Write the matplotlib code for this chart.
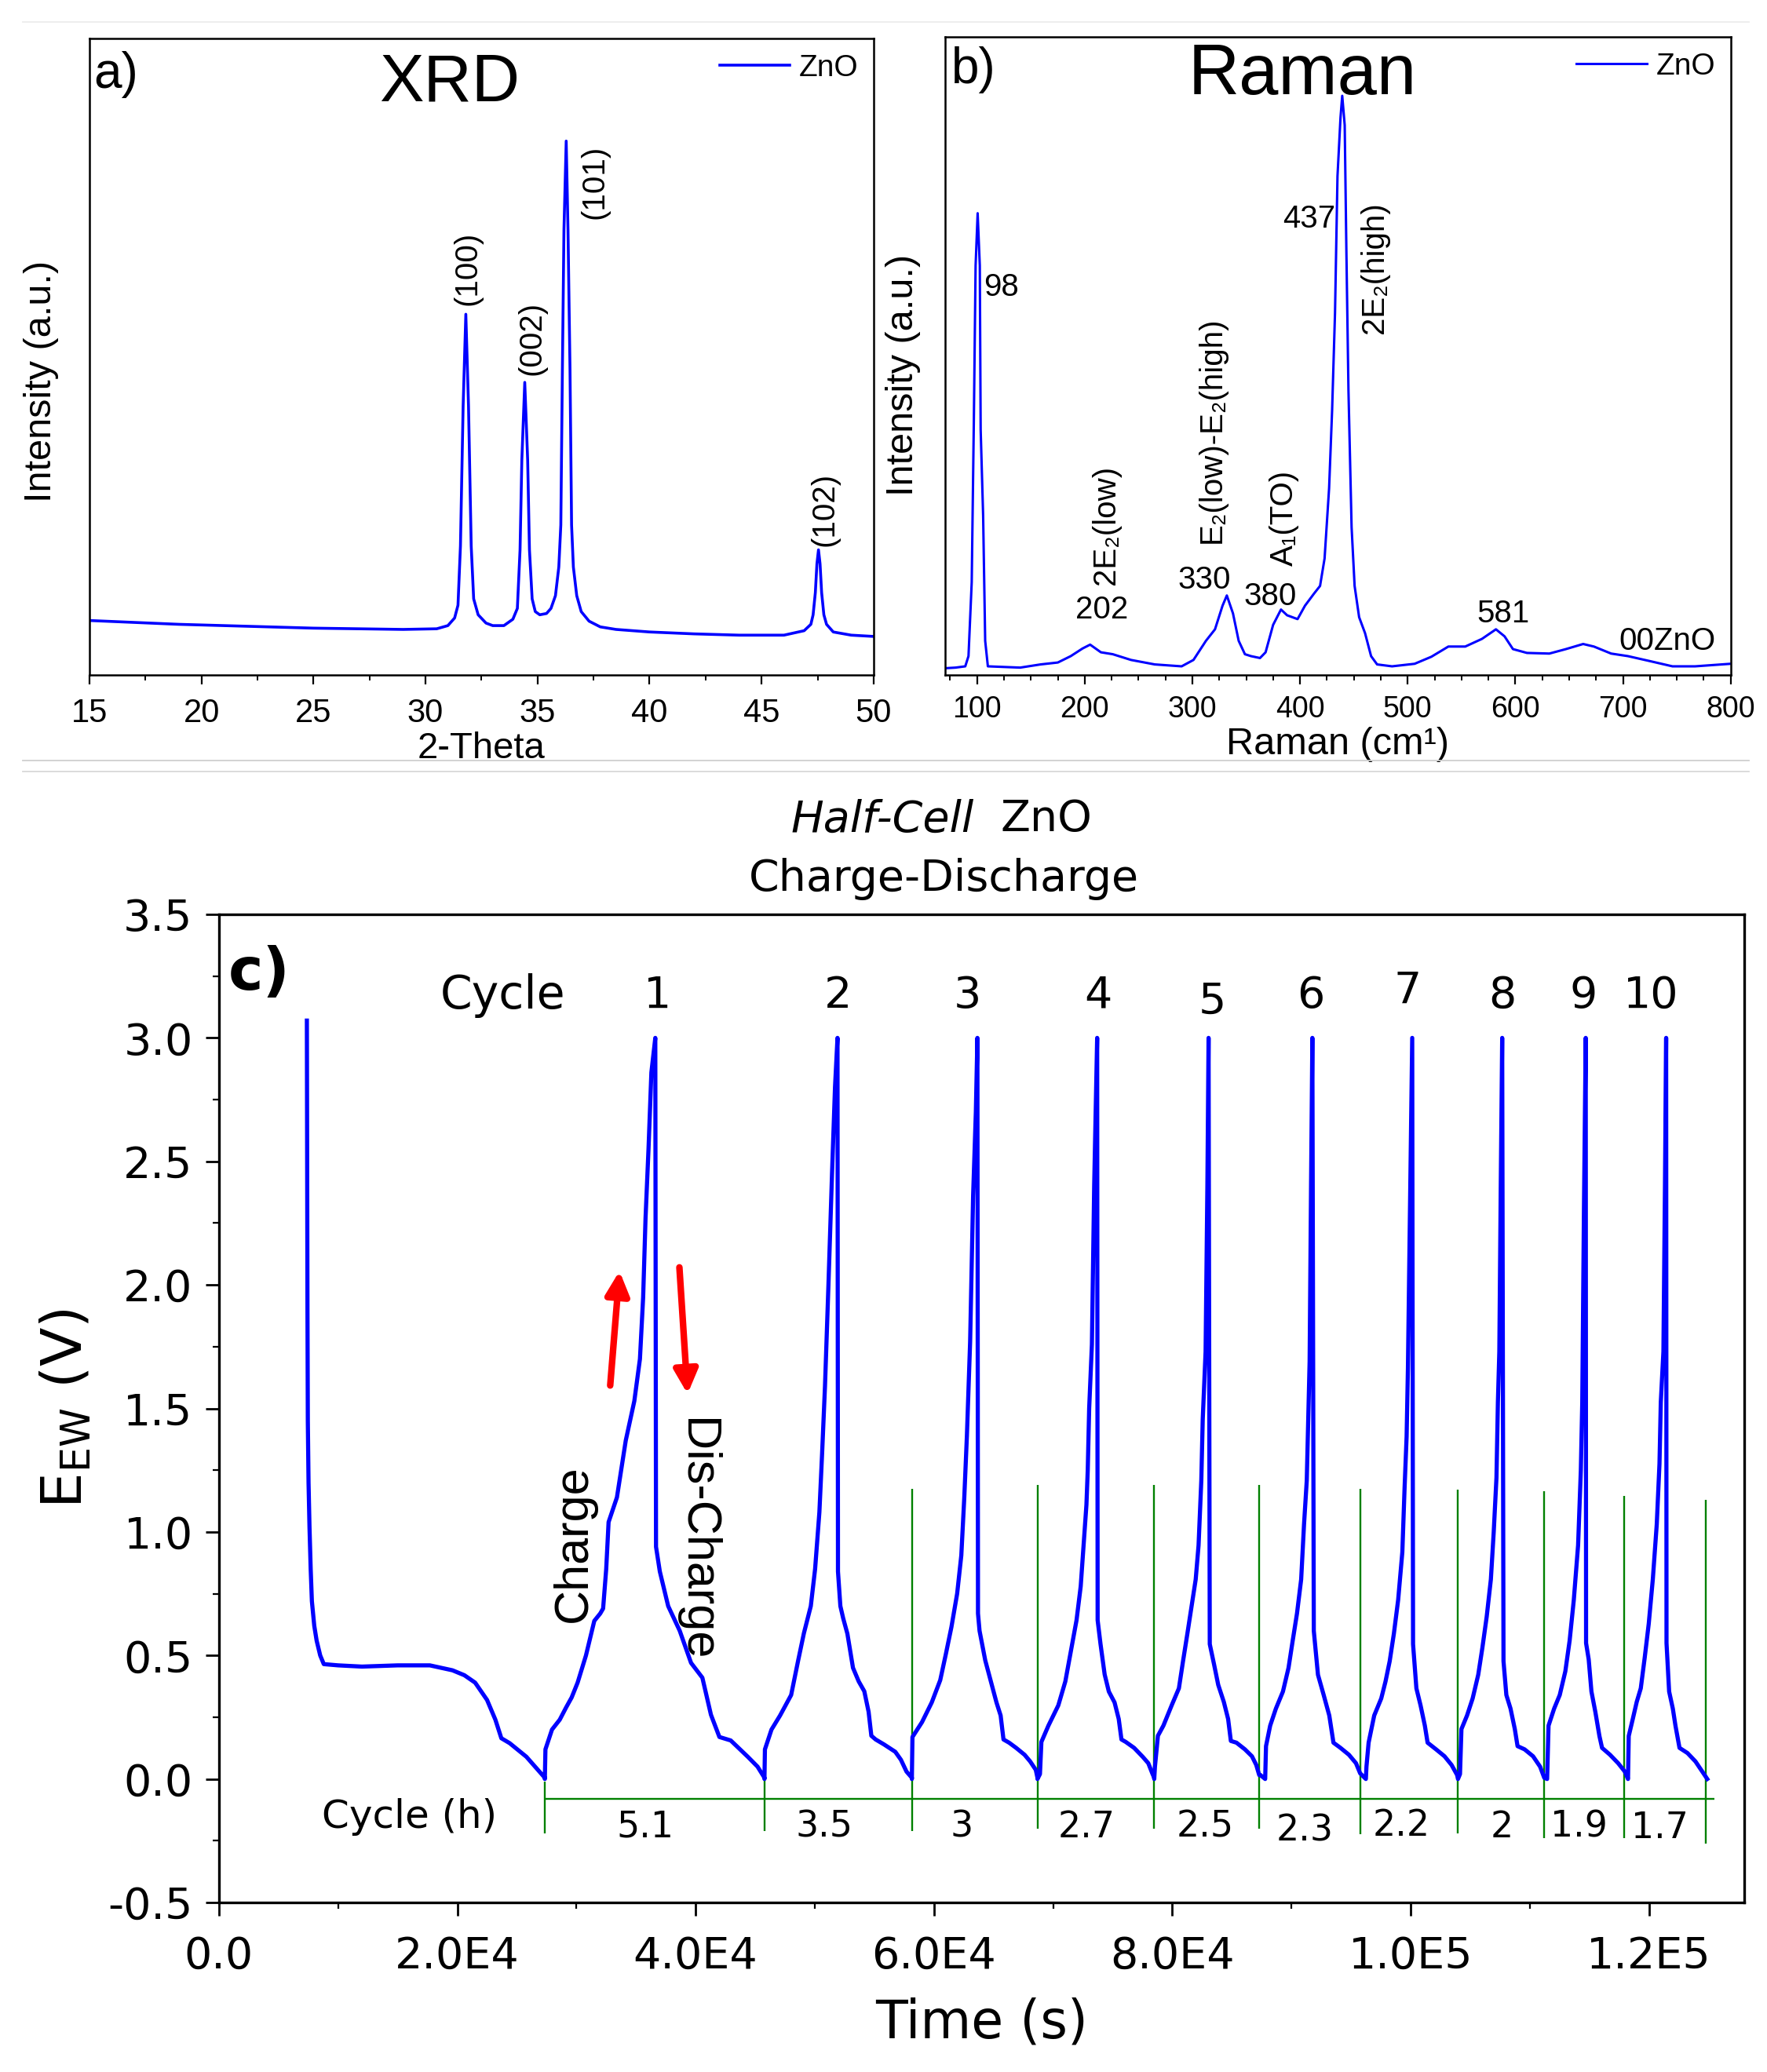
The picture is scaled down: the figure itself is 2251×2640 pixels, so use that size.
import matplotlib
matplotlib.use("Agg")
import matplotlib.pyplot as plt
from matplotlib.lines import Line2D
from matplotlib.ticker import MultipleLocator

plt.rcParams["font.family"] = ["Liberation Sans", "DejaVu Sans"]

# ---------------- a) XRD ----------------
xrd_x = [15, 17, 19, 21, 23, 25, 27, 29, 30.5, 31.0, 31.3, 31.45, 31.56, 31.68, 31.8, 31.92, 32.04,
         32.15, 32.35, 32.7, 33.0, 33.5, 33.9, 34.1, 34.22, 34.30, 34.43, 34.56, 34.64, 34.76, 34.9,
         35.1, 35.4, 35.6, 35.8, 35.95, 36.04, 36.11, 36.18, 36.28, 36.36, 36.45, 36.52, 36.6, 36.75,
         36.95, 37.3, 37.8, 38.5, 40, 42, 44, 46, 46.9, 47.2, 47.3, 47.4, 47.47, 47.54, 47.61, 47.68,
         47.78, 47.9, 48.2, 49, 50]
xrd_y = [86, 83, 80, 78, 76, 74, 73, 72, 73, 78, 90, 110, 203, 423, 567, 423, 203,
         120, 95, 82, 78, 78, 88, 105, 197, 338, 460, 338, 197, 120, 100,
         95, 97, 105, 125, 170, 236, 480, 700, 839, 700, 480, 236, 170, 125,
         100, 85, 76, 72, 68, 65, 63, 63, 70, 80, 95, 130, 175, 197, 175, 130,
         95, 80, 68, 63, 61]
xrd_peak_labels = ["(100)", "(002)", "(101)", "(102)"]
xrd_label_x = [31.89, 34.75, 37.55, 47.8]
xrd_label_y = [581, 471, 717, 203]

# ---------------- b) Raman ----------------
raman_x = [70, 80, 89, 92, 95, 97, 98.6, 100.5, 102.5, 103.3, 105.6, 107.5, 110, 125, 140, 159, 175,
           187, 198, 205, 215, 226, 243, 265, 290, 301, 312.6, 321, 328, 332, 337.7, 343, 348.8,
           354.4, 362.8, 368, 375, 382.3, 388, 397.7, 404.6, 413, 418.6, 422.8, 427, 429.8, 432.5,
           434.8, 437.6, 439.2, 441.5, 443.1, 445, 447.9, 450.7, 454.9, 460.4, 466, 471.6, 485.5,
           506.5, 522, 537.8, 553.5, 569, 582, 590, 597.8, 610.8, 631.6, 647, 663, 673, 689, 704.6,
           725.5, 746, 767, 800]
raman_y = [11, 12, 14, 30, 146, 403, 642, 724, 642, 385, 250, 54, 14, 13, 12, 17, 20,
           30, 42, 48, 36, 33, 24, 17, 14, 24, 54, 72, 109, 125, 97, 54, 33,
           30, 27, 36, 79, 103, 94, 88, 109, 128, 140, 183, 293, 415, 568,
           782, 874, 908, 862, 660, 446, 232, 140, 91, 66, 30, 17, 14,
           18, 29, 45, 45, 57, 72, 61, 41, 35, 34, 41, 49, 45, 34, 30,
           22, 14, 14, 18]
raman_num_labels = ["98", "202", "330", "380", "437", "581", "00ZnO"]
raman_num_x = [106, 215.6, 311, 372, 408.5, 589, 741]
raman_num_y = [608, 103, 149, 123, 715, 96, 53]
raman_num_ha = ["left", "center", "center", "center", "center", "center", "center"]
raman_mode_labels = ["2E\u2082(low)", "E\u2082(low)-E\u2082(high)", "A\u2081(TO)", "2E\u2082(high)"]
raman_mode_x = [219.7, 318, 385, 469.4]
raman_mode_y = [236, 385, 246, 638]

# ---------------- c) Charge-discharge ----------------
rest_t = [7380, 7400, 7430, 7460, 7520, 7600, 7700, 7800, 8000, 8200, 8500, 8800, 10000, 12000,
          15000, 17700, 19600, 20600, 21500, 22500, 23200, 23700, 24400, 25800, 27350]
rest_v = [3.07, 2.6, 1.9, 1.45, 1.2, 1.02, 0.85, 0.72, 0.62, 0.56, 0.50, 0.465, 0.46, 0.455,
          0.46, 0.46, 0.44, 0.42, 0.39, 0.32, 0.24, 0.165, 0.145, 0.09, 0.005]
c1_t = [27350, 27400, 27950, 28600, 29140, 29600, 30100, 30800, 31500, 32000, 32240, 32500, 32700,
        33400, 34140, 34860, 35330, 35600, 35800, 36050, 36290, 36500, 36620, 36680, 37000, 37700,
        38670, 39620, 40570, 41290, 42000, 42950, 44380, 45200, 45780]
c1_v = [0.0, 0.12, 0.20, 0.24, 0.29, 0.33, 0.39, 0.50, 0.64, 0.67, 0.69, 0.85, 1.04,
        1.14, 1.37, 1.53, 1.70, 1.95, 2.27, 2.55, 2.86, 2.95, 3.0, 0.94, 0.84, 0.70,
        0.60, 0.47, 0.41, 0.26, 0.17, 0.156, 0.09, 0.05, 0.005]
c2_t = [45780, 45820, 46370, 47090, 48020, 48610, 49090, 49670, 50030, 50390, 50620, 50860, 51150,
        51450, 51700, 51910, 51950, 52150, 52390, 52740, 53210, 53690, 54160, 54520, 54750, 55110,
        55810, 56760, 57230, 57700, 58150]
c2_v = [0.0, 0.12, 0.20, 0.257, 0.34, 0.48, 0.59, 0.70, 0.85, 1.08, 1.32, 1.59, 2.0,
        2.45, 2.8, 3.0, 0.84, 0.70, 0.65, 0.588, 0.45, 0.395, 0.355, 0.272, 0.175, 0.16,
        0.14, 0.11, 0.078, 0.03, 0.005]
c3_t = [58150, 58200, 59000, 59820, 60530, 61000, 61470, 61950, 62300, 62550, 62770, 63040, 63290,
        63520, 63650, 63700, 63830, 64310, 64780, 65250, 65600, 65840, 66310, 66900, 67610, 68080,
        68550, 68690]
c3_v = [0.0, 0.17, 0.23, 0.31, 0.40, 0.505, 0.615, 0.75, 0.905, 1.14, 1.39, 1.77, 2.36,
        2.70, 3.0, 0.67, 0.60, 0.48, 0.395, 0.31, 0.257, 0.16, 0.147, 0.126, 0.098, 0.071,
        0.037, 0.005]
c4_t = [68690, 68900, 69020, 69610, 70440, 71030, 71500, 71970, 72320, 72560, 72800, 72910, 73030,
        73260, 73450, 73700, 73740, 73980, 74330, 74680, 75160, 75510, 75740, 76100, 76800, 77520,
        77990, 78350, 78490]
c4_v = [0.0, 0.02, 0.15, 0.216, 0.298, 0.395, 0.519, 0.643, 0.78, 0.946, 1.11, 1.25, 1.50,
        1.76, 2.4, 3.0, 0.643, 0.547, 0.423, 0.354, 0.31, 0.243, 0.16, 0.15, 0.126, 0.09,
        0.064, 0.02, 0.005]
c5_t = [78490, 78550, 78800, 79260, 79970, 80560, 80910, 81270, 81620, 81970, 82210, 82440, 82560,
        82800, 82950, 83050, 83150, 83510, 83860, 84330, 84690, 84920, 85390, 86100, 86690, 87050,
        87300]
c5_v = [0.0, 0.05, 0.175, 0.216, 0.30, 0.367, 0.478, 0.588, 0.698, 0.808, 0.946, 1.208, 1.456,
        1.73, 2.4, 3.0, 0.546, 0.464, 0.381, 0.312, 0.243, 0.154, 0.147, 0.12, 0.092, 0.057,
        0.016]
c6_t = [87400, 87800, 87870, 88220, 88700, 89290, 89760, 90110, 90470, 90820, 91060, 91290, 91410,
        91530, 91650, 91760, 91880, 92230, 92710, 93180, 93530, 94120, 94830, 95420, 95770]
c6_v = [0.016, 0.0, 0.133, 0.216, 0.285, 0.354, 0.45, 0.56, 0.67, 0.808, 1.03, 1.208, 1.456,
        1.69, 2.4, 3.0, 0.60, 0.422, 0.34, 0.257, 0.147, 0.126, 0.098, 0.064, 0.023]
c7_t = [96250, 96300, 96480, 96950, 97540, 97900, 98250, 98600, 98960, 99310, 99500, 99670, 99780,
        99950, 100140, 100210, 100490, 100840, 101200, 101430, 102140, 102850, 103440, 103910]
c7_v = [0.0, 0.05, 0.147, 0.257, 0.326, 0.395, 0.477, 0.588, 0.725, 0.918, 1.18, 1.387, 1.663,
        2.3, 3.0, 0.546, 0.367, 0.298, 0.216, 0.147, 0.12, 0.092, 0.057, 0.016]
c8_t = [103980, 104150, 104270, 104740, 105210, 105680, 106030, 106390, 106740, 106980, 107210,
        107330, 107450, 107570, 107690, 107800, 108040, 108390, 108750, 108980, 109570, 110280,
        110870, 111220]
c8_v = [0.0, 0.02, 0.202, 0.257, 0.326, 0.422, 0.532, 0.657, 0.808, 1.0, 1.22,
        1.525, 1.73, 2.4, 3.0, 0.477, 0.34, 0.285, 0.202, 0.133, 0.12, 0.092,
        0.05, 0.005]
c9_t = [111460, 111580, 112050, 112520, 112990, 113350, 113700, 114060, 114290, 114410, 114550,
        114700, 114730, 114950, 115180, 115510, 115850, 116070, 116740, 117420, 117980, 118250]
c9_v = [0.0, 0.216, 0.285, 0.34, 0.436, 0.56, 0.725, 0.946, 1.249, 1.525, 2.3,
        3.0, 0.55, 0.484, 0.354, 0.271, 0.174, 0.126, 0.098, 0.064, 0.03, 0.0]
c10_t = [118250, 118310, 118650, 118980, 119320, 119650, 119990, 120330, 120660, 120890, 121000,
         121220, 121350, 121450, 121480, 121700, 122010, 122230, 122570, 123240, 123910, 124580,
         124900]
c10_v = [0.0, 0.174, 0.243, 0.312, 0.367, 0.491, 0.629, 0.808, 1.03, 1.276, 1.525,
         1.73, 2.4, 3.0, 0.55, 0.354, 0.285, 0.216, 0.126, 0.105, 0.071, 0.023,
         0.0]

cycle_numbers = ["1", "2", "3", "4", "5", "6", "7", "8", "9", "10"]
cycle_num_t = [36820, 51950, 62790, 73800, 83390, 91640, 99740, 107730, 114520, 120200]
cycle_num_v = [3.17, 3.17, 3.17, 3.17, 3.146, 3.17, 3.19, 3.17, 3.17, 3.17]

cycle_hours = ["5.1", "3.5", "3", "2.7", "2.5", "2.3", "2.2", "2", "1.9", "1.7"]
hours_t = [35770, 50770, 62300, 72830, 82770, 91110, 99250, 107640, 114140, 120930]
hours_v = [-0.195, -0.195, -0.196, -0.196, -0.196, -0.21, -0.19, -0.196, -0.196, -0.2]

bound_t = [27350, 45780, 58150, 68690, 78490, 87300, 95760, 103970, 111200, 117950, 124800]
bound_top = [-0.01, 0.006, 1.176, 1.19, 1.19, 1.19, 1.175, 1.17, 1.165, 1.145, 1.13]
bound_bot = [-0.22, -0.21, -0.21, -0.20, -0.20, -0.20, -0.225, -0.22, -0.24, -0.24, -0.26]
scale_v = -0.082
scale_t0, scale_t1 = 27350, 125500

xt_pos = [0, 20000, 40000, 60000, 80000, 100000, 120000]
xt_lab = ["0.0", "2.0E4", "4.0E4", "6.0E4", "8.0E4", "1.0E5", "1.2E5"]
yt_pos = [-0.5, 0.0, 0.5, 1.0, 1.5, 2.0, 2.5, 3.0, 3.5]
yt_lab = ["-0.5", "0.0", "0.5", "1.0", "1.5", "2.0", "2.5", "3.0", "3.5"]

BLUE = "#0000ff"
GREEN = "#008000"

fig = plt.figure(figsize=(22.51, 26.40), dpi=100)

# ---------- panel a ----------
ax_a = fig.add_axes([0.0506, 0.6741, 0.4438, 0.3073])
ax_a.plot(xrd_x, xrd_y, color=BLUE, lw=2.6, label="ZnO")
ax_a.set_xlim(15, 50)
ax_a.set_ylim(0, 1000)
ax_a.set_yticks([])
ax_a.xaxis.set_major_locator(MultipleLocator(5))
ax_a.xaxis.set_minor_locator(MultipleLocator(2.5))
ax_a.tick_params(axis="x", which="major", direction="out", length=8.5, width=1.6, labelsize=30, pad=12)
ax_a.tick_params(axis="x", which="minor", direction="out", length=5, width=1.4)
ax_a.set_xlabel("2-Theta", fontsize=34, labelpad=2)
ax_a.set_ylabel("Intensity (a.u.)", fontsize=35, labelpad=28, y=0.461)
for s in ax_a.spines.values():
    s.set_linewidth(1.8)
for lab, x, y in zip(xrd_peak_labels, xrd_label_x, xrd_label_y):
    ax_a.text(x, y, lab, rotation=90, ha="center", va="bottom", fontsize=29)
ax_a.text(0.459, 0.929, "XRD", transform=ax_a.transAxes, ha="center", va="center", fontsize=61)
ax_a.text(0.005, 0.944, "a)", transform=ax_a.transAxes, ha="left", va="center", fontsize=46)
ax_a.legend(loc="upper right", frameon=False, fontsize=28, handlelength=2.3,
            borderaxespad=0.1, handletextpad=0.3)

# ---------- panel b ----------
ax_b = fig.add_axes([0.5347, 0.6741, 0.4447, 0.3080])
ax_b.plot(raman_x, raman_y, color=BLUE, lw=2.2, label="ZnO")
ax_b.set_xlim(70, 800)
ax_b.set_ylim(0, 1000)
ax_b.set_yticks([])
ax_b.xaxis.set_major_locator(MultipleLocator(100))
ax_b.xaxis.set_minor_locator(MultipleLocator(25))
ax_b.tick_params(axis="x", which="major", direction="out", length=8.5, width=1.6, labelsize=27, pad=10)
ax_b.tick_params(axis="x", which="minor", direction="out", length=5, width=1.4)
ax_b.set_xlabel("Raman (cm\u00b9)", fontsize=35, labelpad=3)
ax_b.set_ylabel("Intensity (a.u.)", fontsize=35, labelpad=22, y=0.47)
for s in ax_b.spines.values():
    s.set_linewidth(1.8)
for lab, x, y, ha in zip(raman_num_labels, raman_num_x, raman_num_y, raman_num_ha):
    ax_b.text(x, y, lab, ha=ha, va="center", fontsize=29)
for lab, x, y in zip(raman_mode_labels, raman_mode_x, raman_mode_y):
    ax_b.text(x, y, lab, rotation=90, ha="center", va="center", fontsize=29)
ax_b.text(0.455, 0.94, "Raman", transform=ax_b.transAxes, ha="center", va="center", fontsize=65)
ax_b.text(0.008, 0.949, "b)", transform=ax_b.transAxes, ha="left", va="center", fontsize=46)
ax_b.legend(loc="upper right", frameon=False, fontsize=28, handlelength=2.3,
            borderaxespad=0.1, handletextpad=0.3)

# separators between the panels
for yy, col in [(0.633, "#cfcfcf"), (0.6277, "#d8d8d8"), (0.9894, "#ececec")]:
    fig.add_artist(Line2D([0.013, 0.99], [yy, yy], color=col, lw=1.3, transform=fig.transFigure))

# ---------- panel c ----------
ax_c = fig.add_axes([0.1239, 0.0818, 0.8632, 0.4769])
all_t = rest_t + c1_t + c2_t + c3_t + c4_t + c5_t + c6_t + c7_t + c8_t + c9_t + c10_t
all_v = rest_v + c1_v + c2_v + c3_v + c4_v + c5_v + c6_v + c7_v + c8_v + c9_v + c10_v
ax_c.vlines(bound_t, bound_bot, bound_top, color=GREEN, lw=1.7, zorder=2)
ax_c.hlines(scale_v, scale_t0, scale_t1, color=GREEN, lw=1.7, zorder=2)
ax_c.plot(all_t, all_v, color=BLUE, lw=3.8, zorder=3)
ax_c.set_xlim(0, 128000)
ax_c.set_ylim(-0.5, 3.5)
ax_c.set_xticks(xt_pos)
ax_c.set_xticklabels(xt_lab)
ax_c.set_yticks(yt_pos)
ax_c.set_yticklabels(yt_lab)
ax_c.xaxis.set_minor_locator(MultipleLocator(10000))
ax_c.yaxis.set_minor_locator(MultipleLocator(0.25))
ax_c.tick_params(which="major", direction="out", length=12, width=2, labelsize=40)
ax_c.tick_params(axis="x", which="major", pad=18)
ax_c.tick_params(axis="y", which="major", pad=12)
ax_c.tick_params(which="minor", direction="out", length=6, width=1.6)
for lbl in ax_c.get_xticklabels() + ax_c.get_yticklabels():
    lbl.set_family("DejaVu Sans")
for s in ax_c.spines.values():
    s.set_linewidth(2.4)
ax_c.set_xlabel("Time (s)", fontsize=48, family="DejaVu Sans", labelpad=18)
ax_c.set_ylabel(r"E$_{\mathregular{EW}}$ (V)", fontsize=52, family="DejaVu Sans", labelpad=13)

ax_c.text(800, 3.26, "c)", ha="left", va="center", fontsize=54, fontweight="bold", family="DejaVu Sans")
ax_c.text(23800, 3.17, "Cycle", ha="center", va="center", fontsize=42, family="DejaVu Sans")
for lab, x, y in zip(cycle_numbers, cycle_num_t, cycle_num_v):
    ax_c.text(x, y, lab, ha="center", va="center", fontsize=40, family="DejaVu Sans")
ax_c.text(15970, -0.152, "Cycle (h)", ha="center", va="center", fontsize=36, family="DejaVu Sans")
for lab, x, y in zip(cycle_hours, hours_t, hours_v):
    ax_c.text(x, y, lab, ha="center", va="center", fontsize=33, family="DejaVu Sans")

ax_c.text(29820, 0.953, "Charge", rotation=90, ha="center", va="center", fontsize=44)
ax_c.text(40050, 0.97, "Dis-Charge", rotation=-90, ha="center", va="center", fontsize=44)
ax_c.annotate("", xy=(33630, 2.065), xytext=(32820, 1.584),
              arrowprops=dict(arrowstyle="-|>", color="#ff0000", lw=6, mutation_scale=45))
ax_c.annotate("", xy=(39340, 1.55), xytext=(38630, 2.08),
              arrowprops=dict(arrowstyle="-|>", color="#ff0000", lw=6, mutation_scale=45))

fig.text(0.5513, 0.6045, "Half-Cell", ha="right", va="center", fontsize=40, style="italic",
         family="DejaVu Sans")
fig.text(0.566, 0.6045, "ZnO", ha="left", va="center", fontsize=40, family="DejaVu Sans")
fig.text(0.534, 0.5758, "Charge-Discharge", ha="center", va="center", fontsize=40, family="DejaVu Sans")

fig.savefig("out.png", dpi=100, facecolor="white")
